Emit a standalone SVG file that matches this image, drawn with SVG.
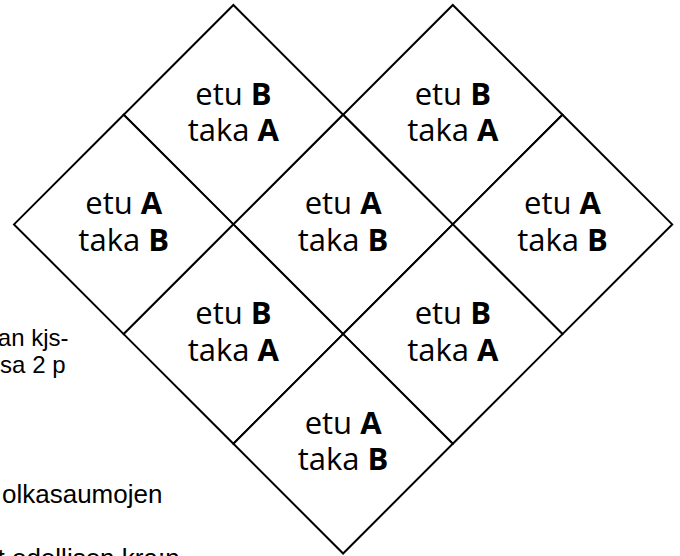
<svg xmlns="http://www.w3.org/2000/svg" width="680" height="556" viewBox="0 0 680 556">
<style>
.cell{fill:#fff;stroke:#000;stroke-width:2;stroke-linejoin:miter}
.lbl{font-family:"Open Sans","Noto Sans",sans-serif;font-size:31px;fill:#000;text-anchor:middle}
.b{font-weight:bold}
.side{font-family:"Liberation Sans",Arial,sans-serif;fill:#000}
</style>
<defs>
<polygon id="dia" points="0,-109.7 109.7,0 0,109.7 -109.7,0"/>
</defs>
<rect width="680" height="556" fill="#fff"/>
<g id="side-text">
<text class="side" x="68.5" y="346" font-size="24" text-anchor="end">an kjs-</text>
<text class="side" x="65.5" y="373" font-size="24" text-anchor="end">sa 2 p</text>
<text class="side" x="2" y="503" font-size="26">olkasaumojen</text>
<text class="side" x="-2.5" y="567" font-size="26">t odellisen kra:n</text>
</g>
<g id="connectors"></g>
<g id="n1" transform="translate(233.4,114.7)"><use href="#dia" class="cell"/><text class="lbl" y="-10">etu <tspan class="b">B</tspan></text><text class="lbl" y="26.5">taka <tspan class="b">A</tspan></text></g>
<g id="n2" transform="translate(452.8,114.7)"><use href="#dia" class="cell"/><text class="lbl" y="-10">etu <tspan class="b">B</tspan></text><text class="lbl" y="26.5">taka <tspan class="b">A</tspan></text></g>
<g id="n3" transform="translate(123.7,224.4)"><use href="#dia" class="cell"/><text class="lbl" y="-10">etu <tspan class="b">A</tspan></text><text class="lbl" y="26.5">taka <tspan class="b">B</tspan></text></g>
<g id="n4" transform="translate(343.1,224.4)"><use href="#dia" class="cell"/><text class="lbl" y="-10">etu <tspan class="b">A</tspan></text><text class="lbl" y="26.5">taka <tspan class="b">B</tspan></text></g>
<g id="n5" transform="translate(562.5,224.4)"><use href="#dia" class="cell"/><text class="lbl" y="-10">etu <tspan class="b">A</tspan></text><text class="lbl" y="26.5">taka <tspan class="b">B</tspan></text></g>
<g id="n6" transform="translate(233.4,334.1)"><use href="#dia" class="cell"/><text class="lbl" y="-10">etu <tspan class="b">B</tspan></text><text class="lbl" y="26.5">taka <tspan class="b">A</tspan></text></g>
<g id="n7" transform="translate(452.8,334.1)"><use href="#dia" class="cell"/><text class="lbl" y="-10">etu <tspan class="b">B</tspan></text><text class="lbl" y="26.5">taka <tspan class="b">A</tspan></text></g>
<g id="n8" transform="translate(343.1,443.8)"><use href="#dia" class="cell"/><text class="lbl" y="-10">etu <tspan class="b">A</tspan></text><text class="lbl" y="26.5">taka <tspan class="b">B</tspan></text></g>
</svg>
